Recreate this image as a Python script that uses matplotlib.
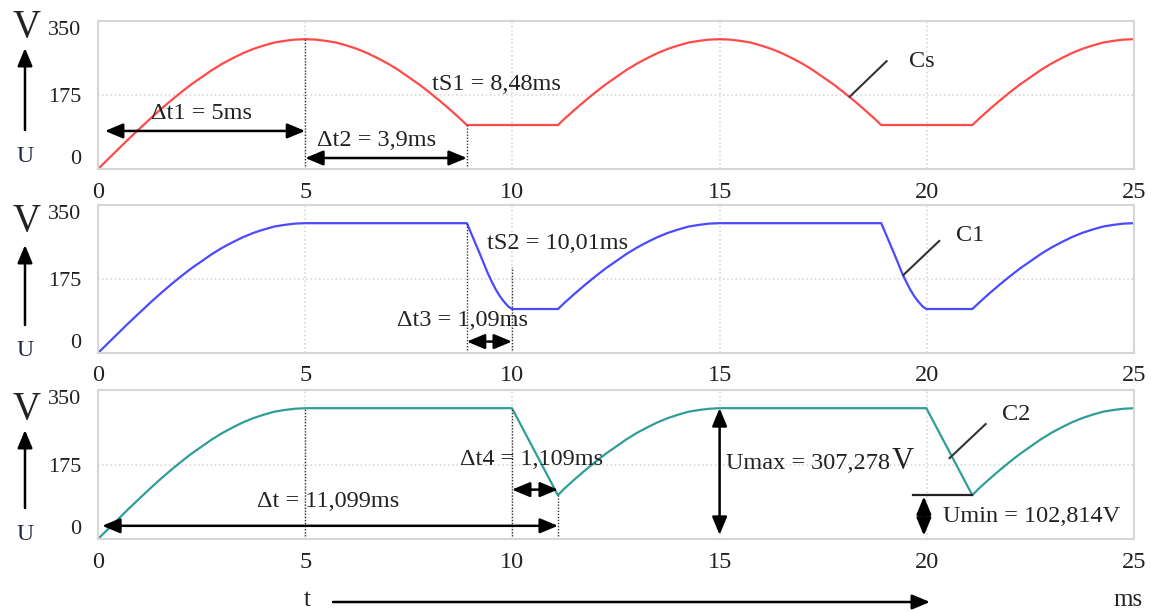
import matplotlib
matplotlib.use("Agg")
import matplotlib.pyplot as plt

plt.rcParams['font.family'] = ['Liberation Serif', 'DejaVu Serif']

W, H = 1151, 612

U_MAX = 307.278   # V
U_MIN = 102.814   # V

# time marks, ms
T_PEAK = 5.0
T_CUT = 8.9       # 5 + 3,9
T_S2 = 9.99       # 8,9 + 1,09
T_DT = 11.099     # 9,99 + 1,109

# voltage on Cs
cs_t = [0, 0.25, 0.5, 0.75, 1, 1.25, 1.5, 1.75, 2, 2.25, 2.5,
        2.75, 3, 3.25, 3.5, 3.75, 4, 4.25, 4.5, 4.75, 5,
        5.25, 5.5, 5.75, 6, 6.25, 6.5, 6.75, 7, 7.25, 7.5,
        7.75, 8, 8.25, 8.5, 8.75, 8.9,
        11.1, 11.25, 11.5, 11.75, 12, 12.25, 12.5, 12.75, 13,
        13.25, 13.5, 13.75, 14, 14.25, 14.5, 14.75, 15,
        15.25, 15.5, 15.75, 16, 16.25, 16.5, 16.75, 17, 17.25, 17.5,
        17.75, 18, 18.25, 18.5, 18.75, 18.9,
        21.1, 21.25, 21.5, 21.75, 22, 22.25, 22.5, 22.75, 23,
        23.25, 23.5, 23.75, 24, 24.25, 24.5, 24.75, 25]
cs_u = [0, 24, 48, 72, 95, 118, 140, 161, 181, 200, 217,
        234, 249, 262, 274, 284, 292, 299, 303, 306, 307,
        306, 303, 299, 292, 284, 274, 262, 249, 234, 217,
        200, 181, 161, 140, 118, 104,
        104, 118, 140, 161, 181, 200, 217, 234, 249,
        262, 274, 284, 292, 299, 303, 306, 307,
        306, 303, 299, 292, 284, 274, 262, 249, 234, 217,
        200, 181, 161, 140, 118, 104,
        104, 118, 140, 161, 181, 200, 217, 234, 249,
        262, 274, 284, 292, 299, 303, 306, 307]

# voltage on C1
c1_t = [0, 0.25, 0.5, 0.75, 1, 1.25, 1.5, 1.75, 2, 2.25, 2.5,
        2.75, 3, 3.25, 3.5, 3.75, 4, 4.25, 4.5, 4.75, 5,
        8.9, 8.95, 9.0, 9.1, 9.2, 9.3, 9.4, 9.5, 9.6, 9.7, 9.8, 9.9, 9.99,
        11.1, 11.25, 11.5, 11.75, 12, 12.25, 12.5, 12.75, 13,
        13.25, 13.5, 13.75, 14, 14.25, 14.5, 14.75, 15,
        18.9, 18.95, 19.0, 19.1, 19.2, 19.3, 19.4, 19.5, 19.6, 19.7, 19.8, 19.9, 19.99,
        21.1, 21.25, 21.5, 21.75, 22, 22.25, 22.5, 22.75, 23,
        23.25, 23.5, 23.75, 24, 24.25, 24.5, 24.75, 25]
c1_u = [0, 24, 48, 72, 95, 118, 140, 161, 181, 200, 217,
        234, 249, 262, 274, 284, 292, 299, 303, 306, 307,
        307, 296, 284, 261, 238, 214, 190, 169, 150, 134, 121, 110, 104,
        104, 118, 140, 161, 181, 200, 217, 234, 249,
        262, 274, 284, 292, 299, 303, 306, 307,
        307, 296, 284, 261, 238, 214, 190, 169, 150, 134, 121, 110, 104,
        104, 118, 140, 161, 181, 200, 217, 234, 249,
        262, 274, 284, 292, 299, 303, 306, 307]

# voltage on C2
c2_t = [0, 0.25, 0.5, 0.75, 1, 1.25, 1.5, 1.75, 2, 2.25, 2.5,
        2.75, 3, 3.25, 3.5, 3.75, 4, 4.25, 4.5, 4.75, 5,
        9.99, 11.099,
        11.25, 11.5, 11.75, 12, 12.25, 12.5, 12.75, 13,
        13.25, 13.5, 13.75, 14, 14.25, 14.5, 14.75, 15,
        19.99, 21.099,
        21.25, 21.5, 21.75, 22, 22.25, 22.5, 22.75, 23,
        23.25, 23.5, 23.75, 24, 24.25, 24.5, 24.75, 25]
c2_u = [0, 24, 48, 72, 95, 118, 140, 161, 181, 200, 217,
        234, 249, 262, 274, 284, 292, 299, 303, 306, U_MAX,
        U_MAX, U_MIN,
        118, 140, 161, 181, 200, 217, 234, 249,
        262, 274, 284, 292, 299, 303, 306, U_MAX,
        U_MAX, U_MIN,
        118, 140, 161, 181, 200, 217, 234, 249,
        262, 274, 284, 292, 299, 303, 306, U_MAX]

x_ticks = [0, 5, 10, 15, 20, 25]
y_ticks = [0, 175, 350]

TXT = '#222222'
FS = 17.5
ARROW = dict(arrowstyle='<|-|>,head_length=0.6,head_width=0.25', color='black',
             lw=1.8, mutation_scale=18, shrinkA=0, shrinkB=0)


def fx(x):
    return x / W


def fy(y):
    return 1 - y / H


def make_panel(fig, top, bottom):
    ax = fig.add_axes([fx(98), fy(bottom), fx(1134) - fx(98), (bottom - top) / H])
    ax.set_xlim(0, 25)
    ax.set_ylim(0, 350)
    ax.set_xticks(x_ticks)
    ax.set_yticks(y_ticks)
    ax.tick_params(axis='x', length=0, pad=9, labelsize=17.5, labelcolor=TXT)
    ax.tick_params(axis='y', length=0, pad=12, labelsize=16, labelcolor=TXT)
    labels = ax.get_yticklabels()
    labels[0].set_va('bottom')
    labels[-1].set_va('top')
    for sp in ax.spines.values():
        sp.set_color('#d6d6d6')
        sp.set_linewidth(1.5)
    ax.grid(True, color='#d9d9d9', linestyle=(0, (1, 1.5)), lw=1.2)
    ax.set_axisbelow(True)
    return ax


def vline(ax, t, u_top):
    ax.plot([t, t], [0, u_top], color='#333333', lw=1.0, ls=(0, (1, 1.2)))


def harrow(ax, t0, t1, u, shrink_left=0):
    ax.annotate('', xy=(t1, u), xytext=(t0, u),
                arrowprops=dict(ARROW, shrinkB=0, shrinkA=shrink_left))


def side_label(fig, y_v, y_tip, y_tail, y_u):
    fig.text(fx(27), fy(y_v), 'V', fontsize=28, color=TXT, ha='center', va='center')
    fig.text(fx(25), fy(y_u), 'U', fontsize=17, color='#1e2640', ha='center', va='center')
    fig.add_artist(matplotlib.patches.FancyArrowPatch(
        (fx(25), fy(y_tail)), (fx(25), fy(y_tip)), transform=fig.transFigure,
        arrowstyle='-|>,head_length=0.6,head_width=0.25', mutation_scale=18,
        color='black', lw=1.8, shrinkA=0, shrinkB=0))


fig = plt.figure(figsize=(W / 100, H / 100), dpi=100)

# ---- Cs ----
ax1 = make_panel(fig, 21, 169)
ax1.plot(cs_t, cs_u, color='#ff4a4a', lw=1.6)
vline(ax1, T_PEAK, 307)
vline(ax1, T_CUT, 104)
harrow(ax1, 0, T_PEAK, 90, shrink_left=5)
ax1.text(2.5, 132, 'Δt1 = 5ms', fontsize=FS, color=TXT, ha='center', va='center')
harrow(ax1, T_PEAK, T_CUT, 26)
ax1.text(6.73, 68, 'Δt2 = 3,9ms', fontsize=FS, color=TXT, ha='center', va='center')
ax1.text(9.62, 199, 'tS1 = 8,48ms', fontsize=FS, color=TXT, ha='center', va='center')
ax1.plot([18.14, 19.03], [171, 255], color='#333333', lw=1.5)
ax1.text(19.88, 254, 'Cs', fontsize=FS, color=TXT, ha='center', va='center')
side_label(fig, 27, 48, 130, 157)

# ---- C1 ----
ax2 = make_panel(fig, 205, 353)
ax2.plot(c1_t, c1_u, color='#4a4aff', lw=1.6)
vline(ax2, T_CUT, 307)
vline(ax2, T_S2, 204)
harrow(ax2, T_CUT, T_S2, 27)
ax2.text(8.79, 78, 'Δt3 = 1,09ms', fontsize=FS, color=TXT, ha='center', va='center')
ax2.text(11.1, 260, 'tS2 = 10,01ms', fontsize=FS, color=TXT, ha='center', va='center')
ax2.plot([19.43, 20.3], [184, 265], color='#333333', lw=1.5)
ax2.text(21.04, 279, 'C1', fontsize=FS, color=TXT, ha='center', va='center')
side_label(fig, 222, 245, 325, 350)

# ---- C2 ----
ax3 = make_panel(fig, 390, 539)
ax3.plot(c2_t, c2_u, color='#2f9e98', lw=1.6)
vline(ax3, T_PEAK, U_MAX)
vline(ax3, T_S2, U_MAX)
vline(ax3, T_DT, U_MIN)
harrow(ax3, 0, T_DT, 31, shrink_left=3)
ax3.text(5.55, 88, 'Δt = 11,099ms', fontsize=FS, color=TXT, ha='center', va='center')
harrow(ax3, T_S2, T_DT, 116)
ax3.text(10.47, 187, 'Δt4 = 1,109ms', fontsize=FS, color=TXT, ha='center', va='center')
ax3.annotate('', xy=(15, U_MAX), xytext=(15, 0),
             arrowprops=dict(ARROW, shrinkA=3))
umax = ax3.text(15.15, 165, 'Umax = 307,278', fontsize=FS, color=TXT,
                ha='left', va='baseline')
ax3.annotate('V', xy=(1, 165), xycoords=(umax, 'data'), xytext=(1, 0),
             textcoords='offset points', fontsize=22, color=TXT,
             ha='left', va='baseline')
ax3.plot([19.66, T_DT + 10], [U_MIN, U_MIN], color='#222222', lw=1.6)
ax3.annotate('', xy=(19.93, 8), xytext=(19.93, U_MIN - 3),
             arrowprops=dict(ARROW))
ax3.text(20.39, 53, 'Umin = 102,814V', fontsize=FS, color=TXT, ha='left', va='center')
ax3.plot([20.55, 21.42], [190, 270], color='#333333', lw=1.5)
ax3.text(22.15, 293, 'C2', fontsize=FS, color=TXT, ha='center', va='center')
side_label(fig, 410, 430, 508, 535)

# time axis arrow at the bottom
fig.add_artist(matplotlib.patches.FancyArrowPatch(
    (fx(333), fy(602)), (fx(930), fy(602)), transform=fig.transFigure,
    arrowstyle='-|>,head_length=0.6,head_width=0.25', mutation_scale=18,
    color='black', lw=1.8, shrinkA=0, shrinkB=0))
fig.text(fx(307), fy(600), 't', fontsize=18, color=TXT, ha='center', va='center')
fig.text(fx(1128), fy(600), 'ms', fontsize=18, color=TXT, ha='center', va='center')

fig.savefig('out.png', dpi=100)
